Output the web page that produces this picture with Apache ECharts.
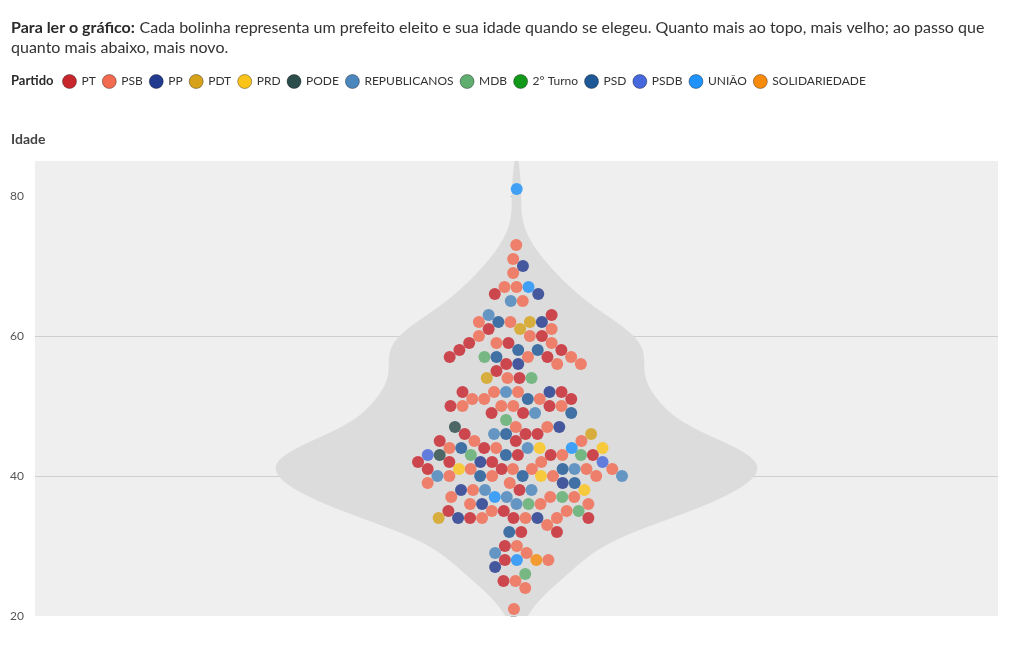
<!DOCTYPE html>
<html>
<head>
<meta charset="utf-8">
<script src="https://cdn.jsdelivr.net/npm/echarts@6/dist/echarts.min.js"></script>
<style>
html,body{margin:0;padding:0;background:#ffffff;}
#c{width:1020px;height:650px;}
</style>
</head>
<body>
<div id="c"></div>
<script>
// ---------------- DATA ----------------
const partidos = ['PT','PSB','PP','PDT','PRD','PODE','REPUBLICANOS','MDB','2° Turno','PSD','PSDB','UNIÃO','SOLIDARIEDADE'];
const coresPartidos = ['#c8262d','#f26a50','#233b8f','#d6a21a','#fcc419','#2d4c4c','#4b86bd','#5fae6f','#12991a','#1e5897','#4767dc','#1f92fb','#f98b0c'];
const ticksIdade = [20, 40, 60, 80];
// idade ao ser eleito (anos) e partidos dos prefeitos eleitos com essa idade
const idades = [81,73,71,70,69,67,66,65,63,62,61,60,59,58,57,56,55,54,52,51,50,49,48,47,46,45,44,43,42,41,40,39,38,37,36,35,34,33,32,30,29,28,27,26,25,24,21];
const eleitosPorIdade = [
  ['UNIÃO'],
  ['PSB'],
  ['PSB'],
  ['PP'],
  ['PSB'],
  ['UNIÃO','PSB','PSB'],
  ['PP','PT'],
  ['PSB','REPUBLICANOS'],
  ['REPUBLICANOS','PT'],
  ['PSD','PSB','PDT','PSB','PP'],
  ['PDT','PT','PSB'],
  ['PSB','PSB','PT'],
  ['PT','PSB','PSB','PT'],
  ['PT','PT','PSD','PSD'],
  ['MDB','PSB','PSD','PSB','PT','PT'],
  ['PSB','PP','PT','PSB'],
  ['PT'],
  ['PSB','PT','PDT','MDB'],
  ['PSB','REPUBLICANOS','PT','PT','PP','PSB'],
  ['PSB','PT','PSB','PSD','PSB'],
  ['PSB','PT','PSB','PSB','PSB','PT'],
  ['REPUBLICANOS','PT','PT','PSD'],
  ['MDB'],
  ['PSB','PSB','PODE','PP'],
  ['PSD','REPUBLICANOS','PDT','PT','PT','PT'],
  ['PT','PSB','PSB','PT'],
  ['UNIÃO','PSB','PRD','REPUBLICANOS','PSD','PRD','PT','PSB'],
  ['PT','PSDB','MDB','PT','MDB','PT','PODE','PSB','PSD'],
  ['PT','PSDB','PP','PT','PSB','PT'],
  ['PSB','PT','PRD','PSB','PSB','PSB','PSD','PT','REPUBLICANOS','PSB'],
  ['PSB','PSB','REPUBLICANOS','PSB','PRD','PSB','REPUBLICANOS','PSD','PSD'],
  ['PP','PSB','PSD','PSB'],
  ['REPUBLICANOS','PRD','PSB','PT','REPUBLICANOS','PP'],
  ['PSB','UNIÃO','REPUBLICANOS','MDB','PSB','PSB'],
  ['REPUBLICANOS','PP','PSB','PSB','MDB','PSB'],
  ['PT','PSB','PT','PSB','MDB'],
  ['PP','PP','PSB','PT','PT','PSB','PT','PSB','PDT'],
  ['PSB'],
  ['PT','PSD','PT'],
  ['PT','PSB'],
  ['PSB','REPUBLICANOS'],
  ['PSB','PT','UNIÃO','SOLIDARIEDADE'],
  ['PP'],
  ['MDB'],
  ['PSB','PT'],
  ['PSB'],
  ['PSB']
];

// ---------------- BUILD ----------------
const dots = [];
idades.forEach((a, k) => eleitosPorIdade[k].forEach(p => dots.push({ idade: a, partido: p })));

// violin: gaussian kernel density of the ages
const BANDA = 3.3;
const densidade = [];
for (let a = 20; a <= 85.0001; a += 0.25) {
  let s = 0;
  for (const d of dots) { const u = (a - d.idade) / BANDA; s += Math.exp(-0.5 * u * u); }
  densidade.push([a, s]);
}
const dMax = Math.max(...densidade.map(p => p[1]));
const MEIA_LARGURA = 0.5; // in x-axis units (axis spans -1..1)

const FONT = 'Lato';
const chart = echarts.init(document.getElementById('c'), null, { renderer: 'canvas' });

const baseOption = {
  animation: false,
  backgroundColor: '#ffffff',
  textStyle: { fontFamily: FONT },
  title: [
    {
      left: 11, top: 18, padding: 0,
      text: '{b|Para ler o gráfico:} {n|Cada bolinha representa um prefeito eleito e sua idade quando se elegeu. Quanto mais ao topo, mais velho; ao passo que}\n{n|quanto mais abaixo, mais novo.}',
      textStyle: {
        fontWeight: 'normal',
        rich: {
          b: { fontFamily: FONT, fontWeight: 'bold', fontSize: 16, color: '#2b2b2b', lineHeight: 20 },
          n: { fontFamily: FONT, fontWeight: 'normal', fontSize: 16, color: '#333333', lineHeight: 20 }
        }
      }
    },
    { left: 11, top: 74, padding: 0, text: 'Partido', textStyle: { fontFamily: FONT, fontWeight: 'bold', fontSize: 13, color: '#2b2b2b' } },
    { left: 11, top: 132, padding: 0, text: 'Idade', textStyle: { fontFamily: FONT, fontWeight: 'bold', fontSize: 14, color: '#444444' } }
  ],
  legend: {
    left: 62, top: 74, padding: 0,
    data: partidos,
    icon: 'circle',
    itemWidth: 14, itemHeight: 14, itemGap: 6,
    selectedMode: false,
    itemStyle: { opacity: 1, borderColor: 'rgba(0,0,0,0.35)', borderWidth: 1 },
    textStyle: { fontFamily: FONT, fontSize: 12, color: '#333333' }
  },
  grid: { left: 35, right: 22, top: 161, bottom: 34, show: true, backgroundColor: '#efefef', borderWidth: 0 },
  xAxis: { type: 'value', min: -1, max: 1, show: false },
  yAxis: {
    type: 'value', min: 20, max: 85, interval: 20,
    axisLine: { show: true, lineStyle: { color: '#e6e6e6', width: 1 } },
    axisTick: { show: true, length: 6, customValues: ticksIdade, lineStyle: { color: '#bbbbbb', width: 1 } },
    axisLabel: { customValues: ticksIdade, margin: 11, fontFamily: FONT, fontSize: 12, color: '#555555' },
    splitLine: { show: true, showMinLine: false, showMaxLine: false, lineStyle: { color: '#cfcfcf', width: 1 } }
  },
  series: []
};

function violinSeries() {
  return {
    type: 'custom',
    name: 'violino',
    silent: true,
    z: 1,
    data: [0],
    renderItem: function (params, api) {
      const right = [], left = [];
      densidade.forEach(([a, s]) => {
        const w = s / dMax * MEIA_LARGURA;
        right.push(api.coord([w, a]));
        left.push(api.coord([-w, a]));
      });
      const pts = right.concat(left.reverse());
      return { type: 'polygon', shape: { points: pts }, style: { fill: '#dcdcdc' } };
    }
  };
}

function scatterSeries(dataByParty) {
  return partidos.map((p, i) => ({
    type: 'scatter',
    name: p,
    z: 3,
    symbolSize: 12,
    itemStyle: { color: coresPartidos[i], opacity: 0.82 },
    emphasis: { disabled: true },
    data: dataByParty[p] || []
  }));
}

baseOption.series = [violinSeries()].concat(scatterSeries({}));
chart.setOption(baseOption);

// ---- beeswarm layout (collision relaxation along x; y fixed at the age) ----
const D = 12;
const N = dots.length;
const ys = dots.map(d => chart.convertToPixel({ yAxisIndex: 0 }, d.idade));
const xs = dots.map((d, i) => { const r = 10 * Math.sqrt(0.5 + i), t = i * Math.PI * (3 - Math.sqrt(5)); return r * Math.cos(t); });
function collide(f) {
  for (let i = 0; i < N; i++) for (let j = i + 1; j < N; j++) {
    const dy = ys[j] - ys[i];
    if (Math.abs(dy) >= D) continue;
    const need = Math.sqrt(D * D - dy * dy);
    const dx = xs[j] - xs[i];
    if (Math.abs(dx) >= need) continue;
    const s = dx > 0 ? 1 : dx < 0 ? -1 : ((i + j) % 2 ? 1 : -1);
    const push = (need - Math.abs(dx)) / 2 * f;
    xs[i] -= s * push; xs[j] += s * push;
  }
}
const ITER = 300;
for (let it = 0; it < ITER; it++) {
  const alpha = Math.pow(0.001, it / ITER);
  for (let i = 0; i < N; i++) xs[i] -= xs[i] * 0.08 * alpha;
  collide(0.7);
}
for (let it = 0; it < 80; it++) collide(1);

const px0 = chart.convertToPixel({ xAxisIndex: 0 }, 0);
const px1 = chart.convertToPixel({ xAxisIndex: 0 }, 1);
const pxPorUnidade = px1 - px0;
const porPartido = {};
dots.forEach((d, i) => {
  (porPartido[d.partido] = porPartido[d.partido] || []).push([xs[i] / pxPorUnidade, d.idade]);
});
chart.setOption({ series: [violinSeries()].concat(scatterSeries(porPartido)) });
</script>
</body>
</html>
